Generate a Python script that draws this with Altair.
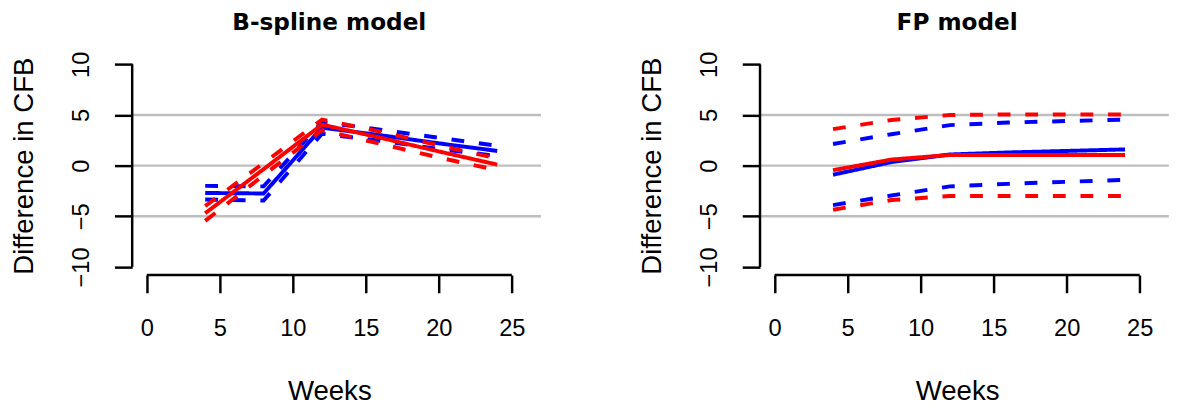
import altair as alt
import pandas as pd

# ---- data ----
weeks = [4, 8, 12, 16, 20, 24]

# B-spline model
bs_blue_est = [-2.7, -2.75, 3.75, 3.0, 2.2, 1.45]
bs_blue_lo = [-3.35, -3.45, 3.15, 2.45, 1.65, 0.95]
bs_blue_hi = [-2.0, -2.05, 4.3, 3.55, 2.75, 1.95]
bs_red_est = [-4.7, -0.35, 4.05, 2.75, 1.4, 0.1]
bs_red_lo = [-5.45, -0.95, 3.5, 2.15, 0.8, -0.45]
bs_red_hi = [-4.0, 0.25, 4.55, 3.35, 2.0, 0.7]

# FP model
fp_blue_est = [-0.9, 0.35, 1.1, 1.3, 1.45, 1.6]
fp_blue_lo = [-3.9, -2.95, -2.05, -1.8, -1.6, -1.4]
fp_blue_hi = [2.14, 3.1, 4.0, 4.25, 4.4, 4.55]
fp_red_est = [-0.45, 0.6, 1.05, 1.05, 1.05, 1.05]
fp_red_lo = [-4.35, -3.4, -3.0, -3.0, -3.0, -3.0]
fp_red_hi = [3.6, 4.5, 5.0, 5.05, 5.05, 5.05]

ref_lines = [-5, 0, 5]
ref_span = [-1, 27]
x_ticks = [0, 5, 10, 15, 20, 25]
y_ticks = [-10, -5, 0, 5, 10]
x_domain = [-1, 26]
y_domain = [-10.8, 10.8]

COLORS = {"blue": "#0000FF", "red": "#FF0000"}
FONT = "Liberation Sans"

PW, PH = 400, 222


def panel(title, series):
    rows = []
    for color, parts in series:
        for kind, vals in parts:
            for w, v in zip(weeks, vals):
                rows.append(dict(series=color, line=f"{color}-{kind}",
                                 kind="est" if kind == "est" else "ci",
                                 week=w, value=v))
    df = pd.DataFrame(rows)

    xs = alt.Scale(domain=x_domain, nice=False, zero=False)
    ys = alt.Scale(domain=y_domain, nice=False, zero=False)

    x_axis = alt.Axis(values=x_ticks, domain=False, grid=False,
                      tickColor="black", tickWidth=2.5, tickSize=18,
                      labelFont=FONT, labelFontSize=24, labelColor="black",
                      labelPadding=43, labelBaseline="alphabetic",
                      labelFlush=False, labelOverlap=False,
                      title="Weeks", titleFont=FONT, titleFontSize=28,
                      titleFontWeight="normal", titleColor="black",
                      titleBaseline="alphabetic", titleY=126)
    y_axis = alt.Axis(values=y_ticks, domain=False, grid=False,
                      tickColor="black", tickWidth=2.5, tickSize=18,
                      labelFont=FONT, labelFontSize=24, labelColor="black",
                      labelAngle=270, labelAlign="center",
                      labelBaseline="alphabetic", labelPadding=26,
                      labelFlush=False, labelOverlap=False,
                      title="Difference in CFB", titleFont=FONT,
                      titleFontSize=28, titleFontWeight="normal",
                      titleColor="black", titleAngle=270,
                      titleBaseline="alphabetic", titleX=-101)

    def X(field):
        return alt.X(field, scale=xs, axis=x_axis)

    def Y(field):
        return alt.Y(field, scale=ys, axis=y_axis)

    ref_df = pd.DataFrame({"ref": ref_lines,
                           "x1": [ref_span[0]] * len(ref_lines),
                           "x2": [ref_span[1]] * len(ref_lines)})
    refs = alt.Chart(ref_df).mark_rule(color="#BEBEBE", strokeWidth=2.5).encode(
        x=X("x1:Q"), x2="x2:Q", y=Y("ref:Q"),
    )

    yaxis_df = pd.DataFrame({"x": [x_domain[0]], "y1": [min(y_ticks)], "y2": [max(y_ticks)]})
    yline = alt.Chart(yaxis_df).mark_rule(color="black", strokeWidth=2.5).encode(
        x=X("x:Q"), y=Y("y1:Q"), y2="y2:Q",
    )
    xaxis_df = pd.DataFrame({"y": [y_domain[0]], "x1": [min(x_ticks)], "x2": [max(x_ticks)]})
    xline = alt.Chart(xaxis_df).mark_rule(color="black", strokeWidth=2.5).encode(
        y=Y("y:Q"), x=X("x1:Q"), x2="x2:Q",
    )

    layers = [refs, yline, xline]
    for color in ["blue", "red"]:
        sub = df[df.series == color]
        layers.append(
            alt.Chart(sub).mark_line(strokeWidth=4, color=COLORS[color], strokeCap="butt").encode(
                x=X("week:Q"),
                y=Y("value:Q"),
                detail="line:N",
                order="week:Q",
                strokeDash=alt.StrokeDash("kind:N",
                                          scale=alt.Scale(domain=["est", "ci"],
                                                          range=[[1, 0], [13, 15]]),
                                          legend=None),
            )
        )
    return alt.layer(*layers).properties(
        width=PW, height=PH,
        title=alt.TitleParams(title, font="DejaVu Sans", fontSize=23.5,
                              fontWeight="bold", color="black",
                              baseline="alphabetic", offset=-2,
                              anchor="middle", frame="group"),
    )


left = panel("B-spline model", [
    ("blue", [("est", bs_blue_est), ("lo", bs_blue_lo), ("hi", bs_blue_hi)]),
    ("red", [("est", bs_red_est), ("lo", bs_red_lo), ("hi", bs_red_hi)]),
])
right = panel("FP model", [
    ("blue", [("est", fp_blue_est), ("lo", fp_blue_lo), ("hi", fp_blue_hi)]),
    ("red", [("est", fp_red_est), ("lo", fp_red_lo), ("hi", fp_red_hi)]),
])

chart = alt.hconcat(left, right, spacing=237, bounds="flush").properties(
    padding={"left": 3, "top": 0, "right": 0, "bottom": 0},
    background="white",
).configure_view(stroke=None)

chart.save("out.html", embed_options={"renderer": "svg", "actions": False})
